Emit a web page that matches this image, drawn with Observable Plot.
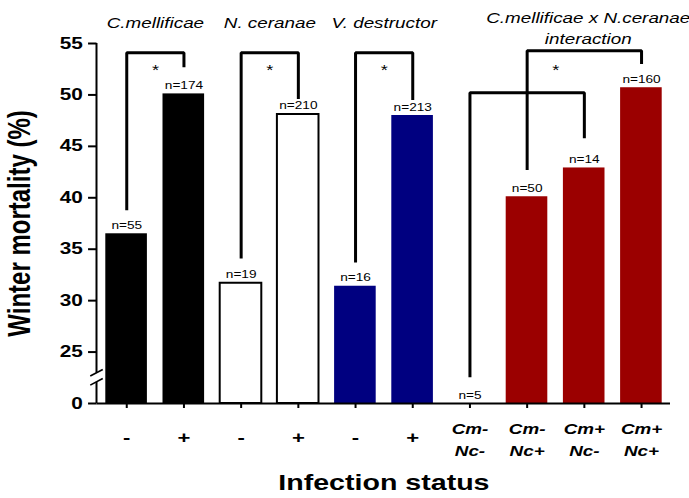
<!DOCTYPE html>
<html>
<head>
<meta charset="utf-8">
<script src="https://cdn.jsdelivr.net/npm/d3@7"></script>
<script src="https://cdn.jsdelivr.net/npm/@observablehq/plot@0.6"></script>
<style>
  html, body { margin: 0; padding: 0; background: #fff; }
</style>
</head>
<body>
<div id="chart"></div>
<script>
// ---------- data ----------
const categories = ["Cm-", "Cm+", "Nc-", "Nc+", "Vd-", "Vd+", "Cm-Nc-", "Cm-Nc+", "Cm+Nc-", "Cm+Nc+"];
const tickLabels = ["-", "+", "-", "+", "-", "+", "Cm-\nNc-", "Cm-\nNc+", "Cm+\nNc-", "Cm+\nNc+"];
const groups = ["cm", "cm", "nc", "nc", "vd", "vd", "int", "int", "int", "int"];
const mortality = [36.5, 50.1, 31.7, 48.1, 31.4, 48.0, 0, 40.1, 42.9, 50.7];
const sampleSizes = [55, 174, 19, 210, 16, 213, 5, 50, 14, 160];
const yTicks = [0, 25, 30, 35, 40, 45, 50, 55];

const pairTitles = ["C.mellificae", "N. ceranae", "V. destructor"];
const pairTitleAt = ["Cm-", "Nc-", "Vd-"];
const interactionTitle = "C.mellificae x N.ceranae\ninteraction";
const interactionTitleAt = "Cm+Nc-";

// significance brackets: [category, value] vertices
const brackets = [
  [["Cm-", 38.8], ["Cm-", 54.1], ["Cm+", 54.1], ["Cm+", 52.7]],
  [["Nc-", 34.1], ["Nc-", 54.1], ["Nc+", 54.1], ["Nc+", 49.6]],
  [["Vd-", 33.7], ["Vd-", 54.1], ["Vd+", 54.1], ["Vd+", 49.5]],
  [["Cm-Nc-", 12.8], ["Cm-Nc-", 50.2], ["Cm+Nc-", 50.2], ["Cm+Nc-", 45.8]],
  [["Cm-Nc+", 42.7], ["Cm-Nc+", 54.3], ["Cm+Nc+", 54.3], ["Cm+Nc+", 53.0]]
];
const starAt = ["Cm-", "Nc-", "Vd-", "Cm-Nc+"];
const starValue = 52.4;
const axisBreak = [10.3, 14.7]; // y-axis gap between 0 and 25

// ---------- styles ----------
const groupKeys = ["cm", "nc", "vd", "int"];
const groupColors = ["#000000", "#ffffff", "#000080", "#9b0000"];

// ---------- broken y axis: 0..25 is squeezed into one 5-unit interval ----------
const breakTop = 25, breakSpan = 5;
const brk = v => v <= breakTop ? breakTop - breakSpan + v * breakSpan / breakTop : v;

// ---------- layout ----------
const W = 689, H = 498;
const sx = 1.3;                 // the reference is stretched horizontally
const w = W / sx;
const marginLeft = 96.5 / sx, marginRight = (W - 670) / sx;
const marginTop = 43, marginBottom = 95;
const step = (w - marginLeft - marginRight) / categories.length;

const bars = categories.map((c, i) => ({c, v: mortality[i], n: sampleSizes[i], g: groups[i], label: tickLabels[i]}));
const bracketRows = brackets.flatMap((b, id) => b.map(([c, v]) => ({id, c, v})));
const font = "'Liberation Sans', Arial, Helvetica, sans-serif";
const tickPos = yTicks.map(brk);

function yAxisLine(index, scales, values, dimensions) {
  const y = v => scales.y(brk(v));
  const x0 = dimensions.marginLeft;
  const g = d3.create("svg:g").attr("stroke", "black").attr("fill", "none");
  g.append("line").attr("x1", x0).attr("x2", x0).attr("y1", y(yTicks[yTicks.length - 1])).attr("y2", y(axisBreak[1])).attr("stroke-width", 2);
  g.append("line").attr("x1", x0).attr("x2", x0).attr("y1", y(axisBreak[0])).attr("y2", y(0)).attr("stroke-width", 2);
  for (const v of axisBreak) {
    g.append("line").attr("x1", x0 - 4.8).attr("x2", x0 + 4.8)
      .attr("y1", y(v) + 3.3).attr("y2", y(v) - 3.3).attr("stroke-width", 1.6);
  }
  return g.node();
}

const svg = Plot.plot({
  width: w, height: H,
  marginLeft, marginRight, marginTop, marginBottom,
  style: {fontFamily: font, background: "white", color: "black", overflow: "visible"},
  x: {domain: categories, paddingInner: 0.28, paddingOuter: 0.14, axis: null},
  y: {domain: [brk(0), yTicks[yTicks.length - 1]], axis: null},
  color: {domain: groupKeys, range: groupColors},
  marks: [
    Plot.barY(bars, {x: "c", y1: () => brk(0), y2: d => brk(d.v), fill: "g"}),
    Plot.barY(bars.filter(d => d.g === "nc"), {x: "c", y1: () => brk(0), y2: d => brk(d.v), fill: "none", stroke: "black", strokeWidth: 2}),
    Plot.ruleY([brk(0)], {stroke: "black", strokeWidth: 2}),
    yAxisLine,
    Plot.axisY({ticks: tickPos, tickFormat: t => yTicks[tickPos.indexOf(t)], tickSize: 6.5, tickPadding: 4.5, fontSize: 16, fontWeight: "bold", label: null, strokeWidth: 2}),
    Plot.axisX({tickSize: 5, tickFormat: () => "", label: null, strokeWidth: 2}),
    Plot.text(bars, {x: "c", y: d => brk(d.v), text: d => "n=" + d.n, dy: -5, lineAnchor: "bottom", fontSize: 10.5}),
    Plot.text(bars.filter(d => d.g !== "int"), {x: "c", text: "label", frameAnchor: "bottom", dy: 34, lineAnchor: "middle", fontSize: 17, fontWeight: "bold"}),
    Plot.text(bars.filter(d => d.g === "int"), {x: "c", text: "label", frameAnchor: "bottom", dy: 34.5, lineAnchor: "middle", fontSize: 14.5, fontWeight: "bold", fontStyle: "italic", lineHeight: 1.5}),
    Plot.line(bracketRows, {x: "c", y: d => brk(d.v), z: "id", stroke: "black", strokeWidth: 3, strokeLinejoin: "miter", strokeLinecap: "butt"}),
    Plot.text(starAt, {x: d => d, y: () => brk(starValue), text: () => "*", dx: step / 2, fontSize: 14, lineAnchor: "middle"}),
    Plot.text(pairTitles, {x: (d, i) => pairTitleAt[i], text: d => d, frameAnchor: "top", dx: step / 2, dy: -20, lineAnchor: "middle", textAnchor: "middle", fontSize: 14.5, fontStyle: "italic"}),
    Plot.text([interactionTitle], {x: () => interactionTitleAt, text: d => d, frameAnchor: "top", dx: 3, dy: -16.5, lineAnchor: "middle", textAnchor: "middle", fontSize: 14.5, fontStyle: "italic", lineHeight: 1.45}),
    Plot.text(["Winter mortality (%)"], {frameAnchor: "left", rotate: -90, dx: 14.5 - marginLeft, lineAnchor: "middle", textAnchor: "middle", fontSize: 24, fontWeight: "bold"}),
    Plot.text(["Infection status"], {frameAnchor: "bottom", dy: 79, lineAnchor: "middle", textAnchor: "middle", fontSize: 22, fontWeight: "bold"})
  ]
});

// keep stroke widths in screen pixels, then stretch the drawing to the reference's proportions
svg.querySelectorAll("path, line, rect").forEach(el => el.setAttribute("vector-effect", "non-scaling-stroke"));
svg.setAttribute("width", W);
svg.setAttribute("height", H);
svg.setAttribute("viewBox", `0 0 ${w} ${H}`);
svg.setAttribute("preserveAspectRatio", "none");
svg.style.width = W + "px";
svg.style.height = H + "px";
svg.style.maxWidth = "none";
document.getElementById("chart").appendChild(svg);
</script>
</body>
</html>
